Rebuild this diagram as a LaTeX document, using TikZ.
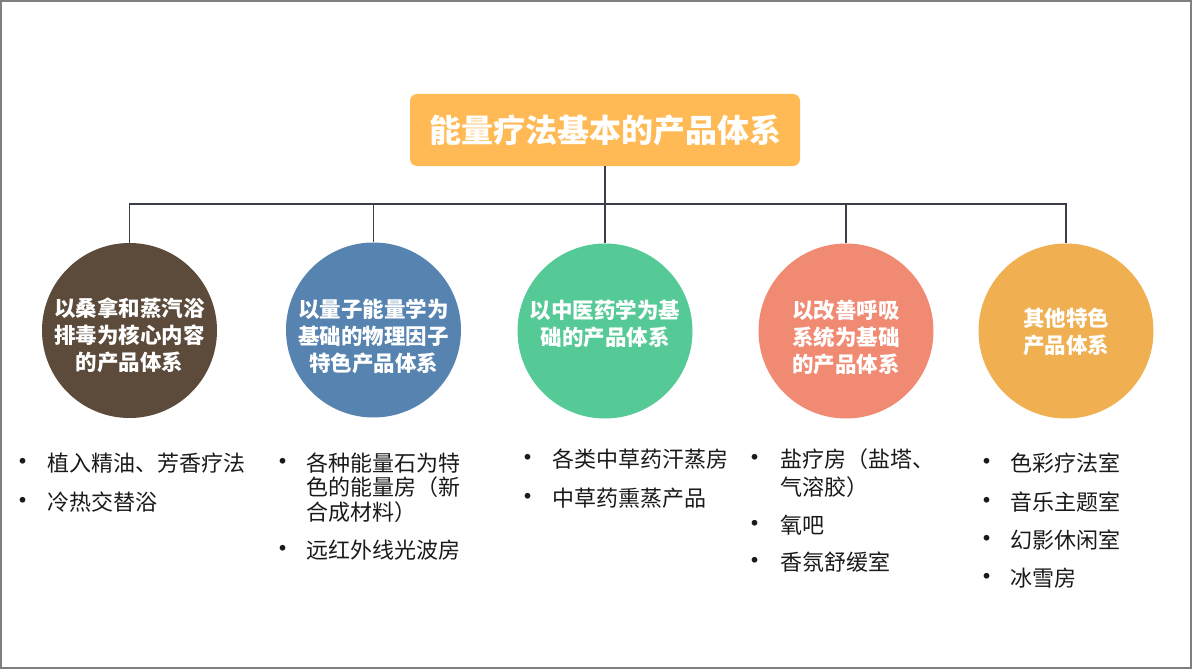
\documentclass[tikz,border=0pt]{standalone}
\usepackage{fontspec}
\newfontfamily\cjk{Noto Sans CJK SC}
\definecolor{titlefill}{HTML}{FFBA55}
\definecolor{cbrown}{HTML}{5C4A3A}
\definecolor{cblue}{HTML}{5683B0}
\definecolor{cgreen}{HTML}{56CA96}
\definecolor{csalmon}{HTML}{F08A73}
\definecolor{corange}{HTML}{F0AF50}
\definecolor{linec}{HTML}{3A3E48}
\definecolor{framec}{HTML}{7F7F7F}
\definecolor{txtc}{HTML}{1A1A1A}
\begin{document}
\begin{tikzpicture}[x=1pt,y=-1pt,
  titlebox/.style={draw=none,fill=titlefill,rounded corners=7pt,minimum width=390pt,minimum height=72pt,inner sep=0pt,
    text=white,font=\cjk\bfseries\fontsize{32}{36}\selectfont},
  circ/.style={circle,draw=none,minimum size=175pt,inner sep=0pt},
  ctext/.style={align=center,text=white,inner sep=0pt,font=\cjk\bfseries\fontsize{21.5}{27}\selectfont},
  itemline/.style={anchor=west,inner sep=0pt,text=txtc,text height=16.7pt,text depth=0pt,font=\cjk\fontsize{22}{26}\selectfont},
  bul/.style={anchor=center,inner sep=0pt,text=txtc,yshift=-1.5pt,font=\cjk\fontsize{27}{30}\selectfont},
  conn/.style={draw=linec,line width=1.2pt}]
\useasboundingbox (0,0) rectangle (1192,669);
\draw[framec,line width=1.6pt] (0.8,0.8) rectangle (1190.8,667.8);

\node[titlebox] (title) at (605,130) {能量疗法基本的产品体系};

\node[circ,fill=cbrown] (c1) at (129.5,330.5) {};
\node[circ,fill=cblue] (c2) at (373.5,330) {};
\node[circ,fill=cgreen] (c3) at (605,331) {};
\node[circ,fill=csalmon] (c4) at (846,331) {};
\node[circ,fill=corange] (c5) at (1066,331) {};

\node[ctext] (t1) at (129.5,335) {以桑拿和蒸汽浴\\排毒为核心内容\\的产品体系};
\node[ctext] (t2) at (373.5,336) {以量子能量学为\\基础的物理因子\\特色产品体系};
\node[ctext] (t3) at (605,323.5) {以中医药学为基\\础的产品体系};
\node[ctext] (t4) at (846,337) {以改善呼吸\\系统为基础\\的产品体系};
\node[ctext] (t5) at (1066,331.5) {其他特色\\产品体系};

\coordinate (bus) at (605,204);
\draw[conn] (title.south) -- (bus);
\draw[conn] (c1.north) |- (bus) -| (c5.north);
\draw[conn] (c2.north) -- (c2.north |- bus);
\draw[conn] (c3.north) -- (c3.north |- bus);
\draw[conn] (c4.north) -- (c4.north |- bus);

% column 1
\node[bul] (b11) at (23,463) {•};
\node[itemline] (l11) at (47,463) {植入精油、芳香疗法};
\node[bul] (b12) at (23,502) {•};
\node[itemline] (l12) at (47,502) {冷热交替浴};
% column 2
\node[bul] (b21) at (283,463) {•};
\node[itemline] (l21) at (306,463) {各种能量石为特};
\node[itemline] (l21b) at (306,487.5) {色的能量房（新};
\node[itemline] (l21c) at (306,512) {合成材料）};
\node[bul] (b22) at (283,550) {•};
\node[itemline] (l22) at (306,550) {远红外线光波房};
% column 3
\node[bul] (b31) at (528,459) {•};
\node[itemline] (l31) at (552,459) {各类中草药汗蒸房};
\node[bul] (b32) at (528,498) {•};
\node[itemline] (l32) at (552,498) {中草药熏蒸产品};
% column 4
\node[bul] (b41) at (755,459) {•};
\node[itemline] (l41) at (780,459) {盐疗房（盐塔、};
\node[itemline] (l41b) at (780,487) {气溶胶）};
\node[bul] (b42) at (755,525) {•};
\node[itemline] (l42) at (780,525) {氧吧};
\node[bul] (b43) at (755,562) {•};
\node[itemline] (l43) at (780,562) {香氛舒缓室};
% column 5
\node[bul] (b51) at (987,463) {•};
\node[itemline] (l51) at (1010,463) {色彩疗法室};
\node[bul] (b52) at (987,502) {•};
\node[itemline] (l52) at (1010,502) {音乐主题室};
\node[bul] (b53) at (987,540) {•};
\node[itemline] (l53) at (1010,540) {幻影休闲室};
\node[bul] (b54) at (987,578) {•};
\node[itemline] (l54) at (1010,578) {冰雪房};
\end{tikzpicture}
\end{document}
